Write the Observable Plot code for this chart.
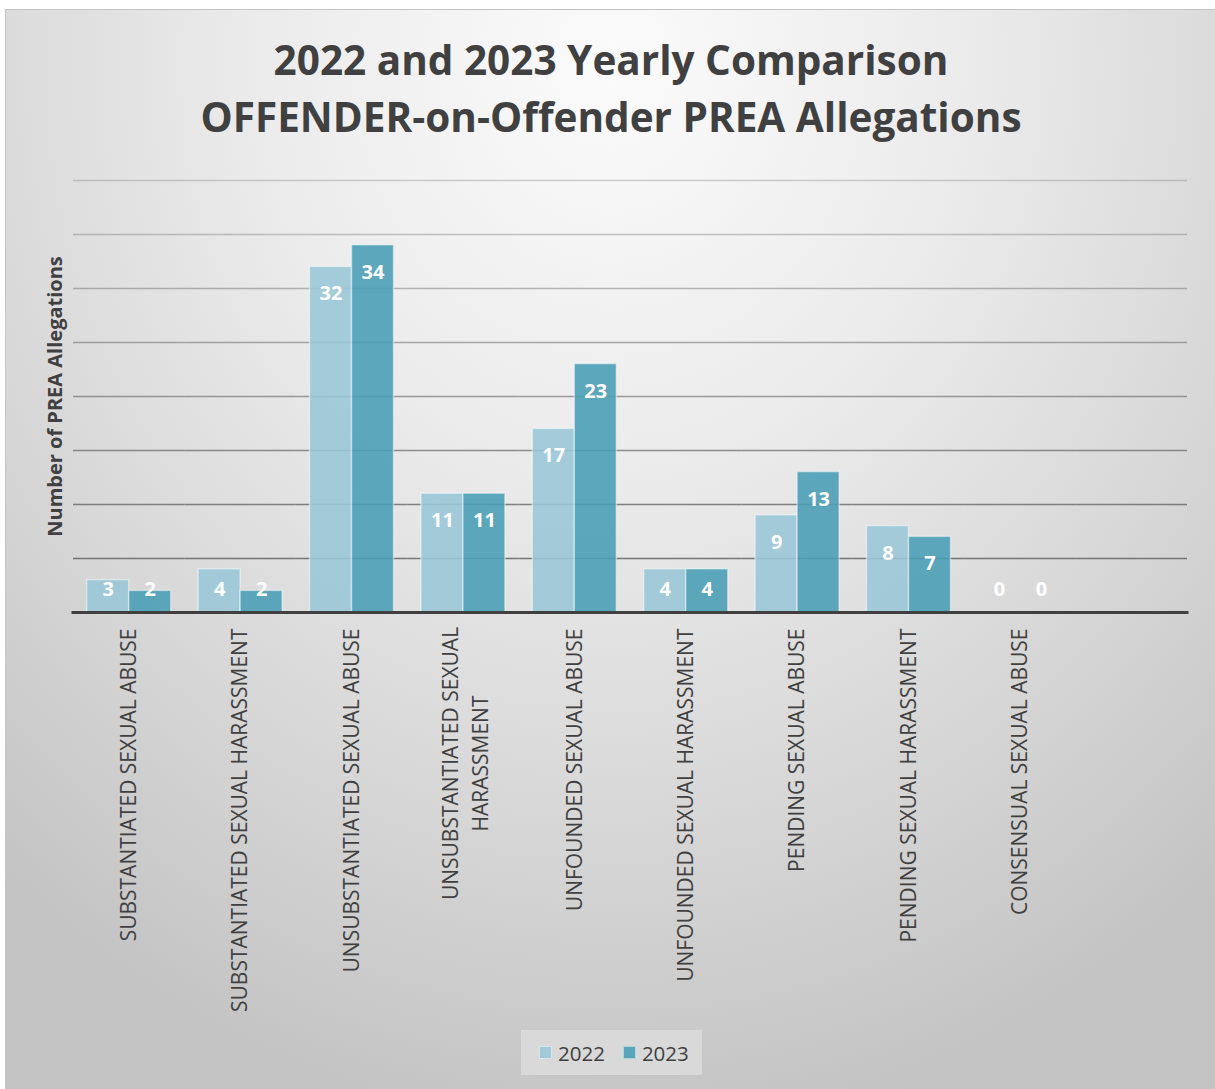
<!DOCTYPE html>
<html>
<head>
<meta charset="utf-8">
<script src="https://cdn.jsdelivr.net/npm/d3@7"></script>
<script src="https://cdn.jsdelivr.net/npm/@observablehq/plot@0.6"></script>
<style>
  html, body { margin: 0; padding: 0; background: #ffffff; }
  body { width: 1215px; height: 1089px; position: relative; overflow: hidden; font-family: "Open Sans", sans-serif; }
  #frame {
    position: absolute; left: 5px; top: 9px; width: 1210px; height: 1080px;
    border-top: 1px solid #c4c4c4; border-left: 1px solid #c4c4c4;
    background: radial-gradient(ellipse 78% 100% at 50% 5%, #fbfbfb 0%, #ebebeb 38%, #d6d6d6 72%, #c3c3c3 100%);
    overflow: hidden;
  }
  #title {
    position: absolute; left: 0; top: 21px; width: 1210px; text-align: center;
    font-weight: 700; font-size: 40.5px; line-height: 57px; color: #404040;
  }
  #chart { position: absolute; left: -6px; top: 140px; }
  #legend {
    position: absolute; left: 515px; top: 1020px; width: 181px; height: 45px;
    background: #d9d9d9; display: flex; align-items: center; box-sizing: border-box; padding-left: 18px;
    font-size: 20.5px; color: #404040;
  }
  .item { display: flex; align-items: center; margin-right: 18px; }
  .sw { width: 13px; height: 13px; margin-right: 6px; box-sizing: border-box; border: 1px solid rgba(255,255,255,0.55); }
</style>
</head>
<body>
<div id="frame">
  <div id="title">2022 and 2023 Yearly Comparison<br>OFFENDER-on-Offender PREA Allegations</div>
  <div id="chart"></div>
  <div id="legend"></div>
</div>
<script>
const categories = [
  "SUBSTANTIATED SEXUAL ABUSE",
  "SUBSTANTIATED SEXUAL HARASSMENT",
  "UNSUBSTANTIATED SEXUAL ABUSE",
  "UNSUBSTANTIATED SEXUAL\nHARASSMENT",
  "UNFOUNDED SEXUAL ABUSE",
  "UNFOUNDED SEXUAL HARASSMENT",
  "PENDING SEXUAL ABUSE",
  "PENDING SEXUAL HARASSMENT",
  "CONSENSUAL SEXUAL ABUSE",
  " "
];
const years = ["2022", "2023"];
const values2022 = [3, 4, 32, 11, 17, 4, 9, 8, 0];
const values2023 = [2, 2, 34, 11, 23, 4, 13, 7, 0];
const gridValues = [5, 10, 15, 20, 25, 30, 35, 40];
const yAxisLabel = "Number of PREA Allegations";
const colors = ["#98c6d7", "#489db4"];
const swatchColors = ["#a1c9d8", "#5aa5b9"];

const data = [];
categories.forEach((c, i) => {
  if (i < values2022.length) {
    data.push({category: c, year: "2022", value: values2022[i]});
    data.push({category: c, year: "2023", value: values2023[i]});
  }
});
const gridData = categories.flatMap(c => gridValues.map(v => ({category: c, value: v})));
const baseData = categories.map(c => ({category: c, value: 0}));

const wrapped = categories.filter(c => c.includes("\n"));
const single = categories.filter(c => c.trim() !== "" && !c.includes("\n"));

const chart = Plot.plot({
  width: 1215,
  height: 860,
  marginLeft: 73,
  marginRight: 28,
  marginTop: 30,
  marginBottom: 398,
  style: {background: "transparent", fontFamily: "Open Sans", overflow: "visible"},
  fx: {domain: categories, padding: 0, round: false, axis: null, label: null},
  x: {domain: years, paddingInner: 0, paddingOuter: 0.326, round: false, axis: null},
  y: {domain: [0, 40], axis: null},
  color: {domain: years, range: colors},
  opacity: {domain: [5, 40], range: [0.88, 0.28]},
  marks: [
    Plot.ruleY(gridData, {fx: "category", y: "value", stroke: "#666666", strokeOpacity: "value", strokeWidth: 1.5}),
    Plot.barY(data, {fx: "category", x: "year", y: "value", fill: "year", fillOpacity: 0.88,
      stroke: "#ffffff", strokeOpacity: 0.45, strokeWidth: 1.5}),
    Plot.ruleY(baseData, {fx: "category", y: "value", stroke: "#404040", strokeWidth: 3, strokeLinecap: "square"}),
    Plot.text(data, {fx: "category", x: "year", y: d => Math.max(d.value, 4.6), dy: 27,
      text: d => String(d.value), fill: "#ffffff", fontWeight: 700, fontSize: 20}),
    Plot.axisFx({ticks: single, anchor: "bottom", tickRotate: -90, tickSize: 0, tickPadding: 16,
      textAnchor: "end", fontSize: 21, fill: "#404040", label: null}),
    Plot.axisFx({ticks: wrapped, anchor: "bottom", tickRotate: -90, tickSize: 0, tickPadding: 151,
      textAnchor: "middle", lineHeight: 1.42, fontSize: 21, fill: "#404040", label: null}),
    Plot.text([yAxisLabel], {frameAnchor: "left", textAnchor: "middle", rotate: -90, dx: -18, text: d => d,
      fill: "#404040", fontWeight: 700, fontSize: 20, facet: "super"})
  ]
});
document.getElementById("chart").appendChild(chart);

const legend = document.getElementById("legend");
years.forEach((y, i) => {
  const item = document.createElement("div");
  item.className = "item";
  const sw = document.createElement("div");
  sw.className = "sw";
  sw.style.background = swatchColors[i];
  const t = document.createElement("span");
  t.textContent = y;
  item.appendChild(sw);
  item.appendChild(t);
  legend.appendChild(item);
});
</script>
</body>
</html>
